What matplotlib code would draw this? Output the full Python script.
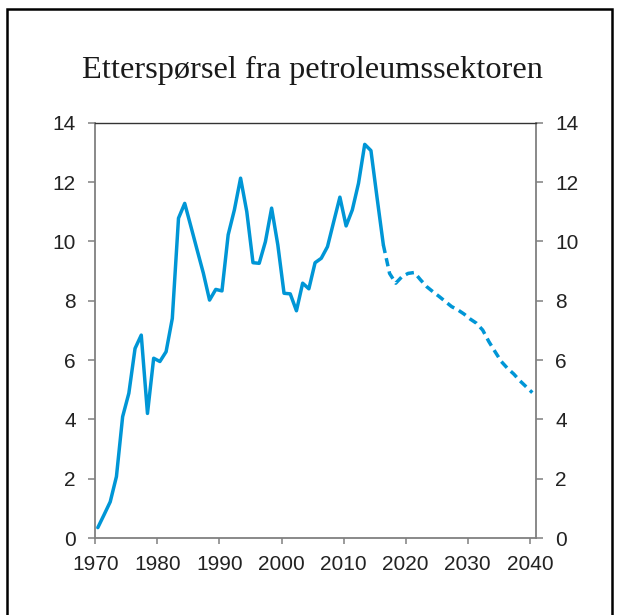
import matplotlib
matplotlib.use("Agg")
import numpy as np
import matplotlib.pyplot as plt
from matplotlib.patches import Rectangle

# historical values 1970-2016
hist_years = list(range(1970, 2017))
hist_values = [0.35, 0.78, 1.22, 2.07, 4.09, 4.88, 6.39, 6.84, 4.20, 6.06,
               5.95, 6.28, 7.40, 10.78, 11.28, 10.50, 9.71, 8.93, 8.02, 8.38,
               8.33, 10.22, 11.06, 12.13, 11.00, 9.28, 9.26, 9.99, 11.12, 9.88,
               8.25, 8.23, 7.66, 8.59, 8.40, 9.28, 9.43, 9.82, 10.66, 11.49,
               10.52, 11.06, 11.96, 13.27, 13.06, 11.45, 9.88]

# projection 2016-2040
proj_years = list(range(2016, 2041))
proj_values = [9.88, 8.92, 8.59, 8.81, 8.92, 8.95, 8.70, 8.47, 8.30, 8.14,
               7.97, 7.80, 7.69, 7.55, 7.38, 7.24, 7.01, 6.62, 6.28, 5.95,
               5.72, 5.53, 5.30, 5.10, 4.90]

title = "Etterspørsel fra petroleumssektoren"
x_ticks = [1970, 1980, 1990, 2000, 2010, 2020, 2030, 2040]
y_ticks = [0, 2, 4, 6, 8, 10, 12, 14]

LINE_COLOR = "#0096d6"
SPINE_COLOR = "#808080"

plt.rcParams['font.family'] = ['Liberation Sans', 'DejaVu Sans']

fig = plt.figure(figsize=(6.19, 6.15), dpi=100)
ax = fig.add_axes([0.154, 0.1252, 0.712, 0.6753])

# values are annual, drawn a bit into each year
offset = 0.4
ax.plot(np.array(hist_years) + offset, hist_values, color=LINE_COLOR, lw=2.5,
        solid_joinstyle='round', solid_capstyle='round')
ax.plot(np.array(proj_years) + offset, proj_values, color=LINE_COLOR, lw=2.5,
        dashes=(2.4, 1.5), dash_capstyle='butt')

ax.set_xlim(1970, 2041)
ax.set_ylim(0, 14)
ax.set_xticks(x_ticks)
ax.set_yticks(y_ticks)

for side in ['left', 'right', 'bottom']:
    ax.spines[side].set_color(SPINE_COLOR)
    ax.spines[side].set_linewidth(1.3)
ax.spines['top'].set_color('#333333')
ax.spines['top'].set_linewidth(1.0)

ax.tick_params(axis='y', which='both', left=True, right=True, labelleft=True,
               labelright=True, direction='out', length=5, width=1.1,
               color=SPINE_COLOR, pad=9, labelsize=15, labelcolor='#222222')
ax.tick_params(axis='x', direction='out', length=4.5, width=1.1,
               color=SPINE_COLOR, pad=8, labelsize=15, labelcolor='#222222')

fig.text(0.505, 0.886, title, ha='center', va='center', fontsize=23.3,
         family=['Liberation Serif', 'DejaVu Serif'], color='#1a1a1a')

# outer frame
fig.patches.append(Rectangle((0.012, -0.05), 0.977, 1.035, transform=fig.transFigure,
                             fill=False, edgecolor='black', lw=1.8))

fig.savefig("out.png", dpi=100)
